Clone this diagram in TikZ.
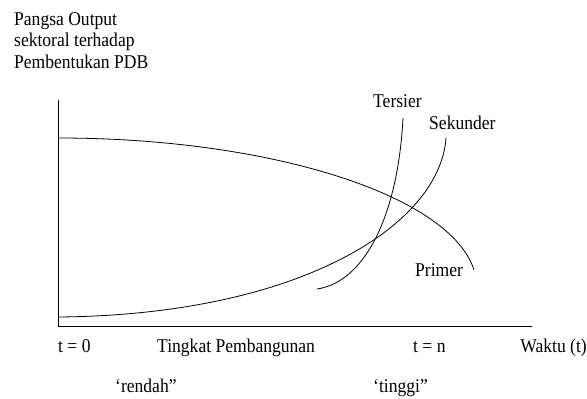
\documentclass[tikz,border=0pt]{standalone}
\usepackage{fontspec}
\setmainfont[FakeStretch=0.9]{Liberation Serif}
\begin{document}
\begin{tikzpicture}[x=1pt,y=-1pt,
  lbl/.style={font=\fontsize{19.5}{21.5}\selectfont,inner sep=0pt,anchor=base west},
  curve/.style={line width=0.8pt}]
 \useasboundingbox (0,0) rectangle (587,399);
 % axes
 \coordinate (O) at (58,326);
 \coordinate (ytop) at (58,100);
 \coordinate (xend) at (532,326);
 \draw[curve] (ytop) -- (O) -- (xend);
 \node[lbl] (ylab1) at (14,25) {Pangsa Output};
 \node[lbl] (ylab2) at (14,46.5) {sektoral terhadap};
 \node[lbl] (ylab3) at (14,68) {Pembentukan PDB};
 % curves
 \draw[curve] (58,138) .. controls (270,138) and (450,195) .. (474,270);
 \draw[curve] (58,317) .. controls (300,315) and (440,225) .. (446,138);
 \draw[curve] (317,289) .. controls (365,282) and (398,215) .. (403,118);
 \node[lbl] (tersier) at (373,107) {Tersier};
 \node[lbl] (sekunder) at (429,129) {Sekunder};
 \node[lbl] (primer) at (415,276) {Primer};
 % bottom labels
 \node[lbl] (t0) at (58,352) {t = 0};
 \node[lbl] (tingkat) at (157,352) {Tingkat Pembangunan};
 \node[lbl] (tn) at (413,352) {t = n};
 \node[lbl,anchor=base east] (waktu) at (587,352) {Waktu (t)};
 \node[lbl] (rendah) at (115,392) {`rendah''};
 \node[lbl] (tinggi) at (373,392) {`tinggi''};
\end{tikzpicture}
\end{document}
